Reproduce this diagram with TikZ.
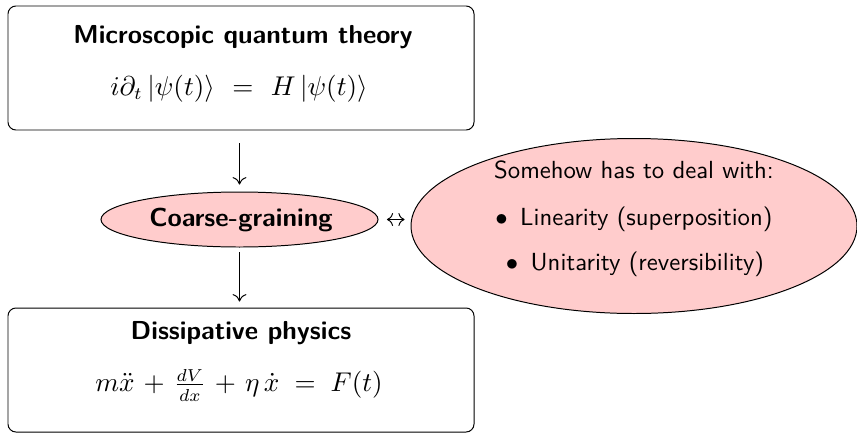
\documentclass[tikz,border=0pt]{standalone}
\usetikzlibrary{shapes.geometric,arrows.meta}
\begin{document}
\begin{tikzpicture}[x=0.404pt,y=-0.404pt,
  box/.style={draw,rounded corners=3.2pt,inner sep=0pt,minimum width=466*0.404pt},
  blob/.style={draw,ellipse,fill=red!20,inner sep=0pt},
  txt/.style={inner sep=0pt,font=\sffamily},
  eqn/.style={inner sep=0pt,font=\fontsize{10.7}{13}\selectfont},
  ttl/.style={inner sep=0pt,font=\sffamily\bfseries\fontsize{10.5}{12}\selectfont},
  flow/.style={-{Computer Modern Rightarrow[length=3pt,width=5.6pt]}},
  every node/.style={anchor=center}]
\useasboundingbox (0,0) rectangle (857,432);
\clip (0,0) rectangle (857,432);
% boxes
\node[box,minimum height=124*0.404pt] (top) at (241,68) {};
\node[box,minimum height=124*0.404pt] (bot) at (241,370) {};
\node[ttl] (toptitle) at (243,37) {Microscopic quantum theory};
\node[eqn] (topeq) at (239,89) {$i\partial_t\,|\psi(t)\rangle\hspace{4pt}=\hspace{4pt}H\,|\psi(t)\rangle$};
\node[ttl] (bottitle) at (241,333) {Dissipative physics};
\node[eqn] (boteq) at (239,385) {$m\ddot{x}\mkern2mu+\mkern2mu\frac{dV}{dx}\mkern2mu+\mkern2mu\eta\,\dot{x}\;=\;F(t)$};
% ellipses
\node[blob,minimum width=277*0.404pt,minimum height=55*0.404pt] (cg) at (239.5,219.5) {};
\node[ttl] (cgtext) at (241,220) {Coarse-graining};
\node[blob,minimum width=446*0.404pt,minimum height=175*0.404pt] (deal) at (634,226) {};
\node[txt] (d1) at (634,170) {Somehow has to deal with:};
\node[txt] (d2) at (634,219) {$\bullet$\enspace Linearity (superposition)};
\node[txt] (d3) at (635,264) {$\bullet$\enspace Unitarity (reversibility)};
% connectors
\draw[flow,shorten <=5.2pt,shorten >=2.8pt] (top.south -| cg.north) -- (cg.north);
\draw[flow,shorten <=2pt,shorten >=2.4pt] (cg.south) -- (cg.south |- bot.north);
\draw[<->,shorten <=3.4pt,shorten >=2.4pt] (cg.east) -- (cg.east -| deal.west);
\end{tikzpicture}
\end{document}
